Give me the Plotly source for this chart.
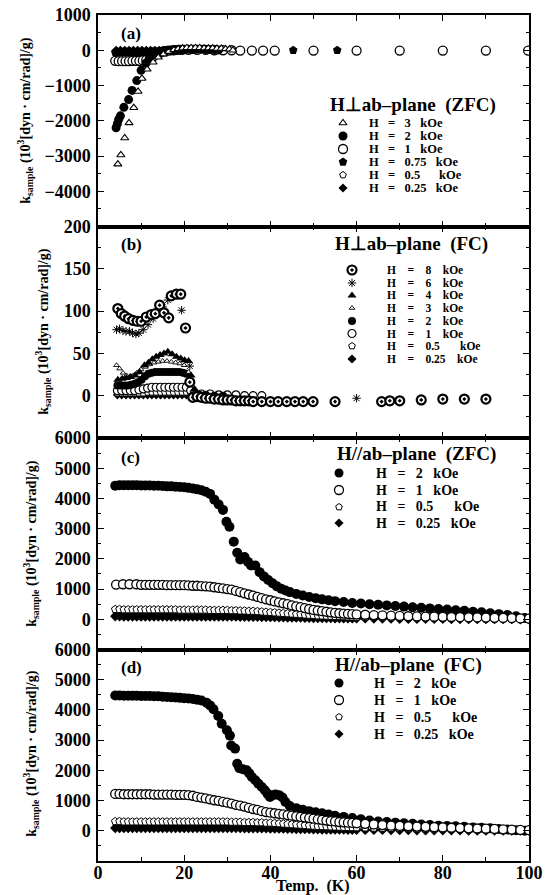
import plotly.graph_objects as go
from plotly.subplots import make_subplots

# ---------------- data ----------------
# panel (a): H perpendicular ab-plane, ZFC
a_T_3k = [4.6, 5.3, 6.2, 7.2, 8.3, 9.3, 10.2, 11.4, 12.8, 14.0, 15.2, 16.4, 17.6, 18.6, 19.6, 20.6, 21.6, 22.6, 23.6, 24.6, 25.6, 26.6, 27.6, 28.6, 29.6, 30.5, 31.3]
a_k_3k = [-3230, -2970, -2490, -2060, -1630, -1170, -800, -540, -340, -200, -110, -40, 10, 40, 60, 70, 70, 70, 70, 60, 60, 60, 50, 50, 40, 30, 0]
a_T_2k = [4.2, 4.5, 4.8, 5.2, 6.0, 7.1, 7.9, 9.0, 10.0, 11.1, 12.0, 13.0, 14.0, 15.0, 16.0, 17.0, 18.0, 19.0, 20.0, 21.0, 22.0, 23.0, 24.0, 25.0, 26.0, 27.0, 28.0]
a_k_2k = [-2200, -2080, -1960, -1860, -1620, -1400, -1140, -860, -570, -370, -210, -120, -60, -20, 0, 10, 20, 30, 30, 30, 30, 30, 30, 20, 20, 20, 10]
a_T_1k = [4.0, 4.8, 5.6, 6.4, 7.2, 8.0, 8.8, 9.6, 10.4, 11.2, 12.0, 12.8, 13.6, 14.5, 15.5, 16.5, 17.5, 18.5, 19.5, 21.0, 23.0, 25.0, 27.0, 29.0, 31.0, 33.0, 35.7, 38.3, 41.0, 50.0, 60.0, 70.0, 80.0, 90.0, 99.8]
a_k_1k = [-300, -310, -310, -310, -310, -300, -300, -300, -290, -280, -250, -180, -110, -60, -30, -10, 0, 10, 10, 10, 10, 10, 0, 0, 0, -10, -10, -10, -10, -10, -10, -10, -10, -10, -10]
a_T_075k = [4.0, 5.0, 6.0, 7.0, 8.0, 9.0, 10.0, 11.0, 12.0, 13.0, 14.0, 15.0, 16.0, 17.0, 18.0, 20.0, 22.0, 45.3, 55.5]
a_k_075k = [-60, -60, -60, -60, -60, -60, -60, -60, -50, -40, -30, -20, -10, -10, 0, 0, 0, 0, 0]
a_T_05k = [4.5, 5.5, 6.5, 7.5, 8.5, 9.5, 10.5, 11.5, 12.5, 13.5, 14.5, 15.5, 16.5, 17.5, 18.5, 19.5]
a_k_05k = [-30, -30, -30, -30, -30, -30, -30, -30, -20, -20, -20, -10, -10, 0, 0, 0]
a_T_025k = [4.2, 5.2, 6.2, 7.2, 8.2, 9.2, 10.2, 11.2, 12.2, 13.2, 14.2, 15.2, 16.2, 17.2, 18.2, 19.2]
a_k_025k = [0, 0, 0, 0, 0, 0, 0, 0, 0, 0, 0, 0, 0, 0, 0, 0]

# panel (b): H perpendicular ab-plane, FC
b_T_8k = [4.6, 5.4, 6.2, 7.1, 8.1, 9.1, 10.0, 11.2, 12.4, 13.3, 14.3, 15.3, 16.4, 17.0, 18.2, 19.2, 20.3, 21.3, 22.0, 23.0, 24.0, 25.0, 26.0, 27.0, 28.0, 29.0, 30.0, 31.0, 32.0, 33.0, 34.0, 35.0, 36.0, 38.0, 40.0, 41.8, 43.8, 45.7, 47.6, 49.9, 55.0, 65.8, 67.7, 70.0, 75.0, 80.0, 85.0, 90.0]
b_k_8k = [103, 97, 94, 91, 89, 88, 88, 93, 96, 97, 107, 98, 92, 118, 120, 120, 80, 16, -2, -1, -2, -3, -3, -4, -4, -5, -5, -5, -6, -6, -6, -6, -7, -7, -7, -7, -7, -7, -7, -7, -7, -7, -6, -6, -5, -4, -4, -4]
b_T_6k = [4.3, 5.0, 5.8, 6.5, 7.3, 8.0, 8.8, 9.5, 10.5, 11.6, 12.8, 13.9, 15.0, 16.2, 19.4, 21.3, 22.5, 60.0]
b_k_6k = [78, 79, 77, 76, 76, 74, 73, 74, 78, 84, 91, 99, 105, 113, 101, 35, 3, -3]
b_T_4k = [4.6, 5.6, 6.6, 7.6, 8.6, 9.6, 10.8, 11.7, 12.6, 13.5, 14.4, 15.3, 16.2, 17.2, 18.2, 19.2, 20.1, 21.0, 21.6, 22.4]
b_k_4k = [19, 20, 21, 22, 24, 28, 36, 39, 43, 46, 48, 50, 52, 49, 46, 44, 42, 41, 24, 8]
b_T_3k = [4.3, 5.0, 5.8, 6.6, 7.4, 8.2, 9.0, 10.0, 11.0, 12.0, 13.0, 14.0, 15.0, 16.0, 17.0, 18.0, 19.0, 20.0, 21.0, 22.0]
b_k_3k = [36, 32, 27, 24, 23, 24, 27, 31, 34, 37, 39, 40, 41, 41, 40, 39, 38, 36, 28, 6]
b_T_2k = [4.5, 5.3, 6.1, 6.9, 7.7, 8.5, 9.3, 10.1, 10.9, 11.7, 12.5, 13.3, 14.1, 14.9, 15.7, 16.5, 17.3, 18.1, 18.9, 19.7, 20.5, 21.3, 22.2, 23.5, 25.0, 27.0, 29.0]
b_k_2k = [12, 12, 12, 12, 13, 14, 16, 19, 23, 26, 27, 28, 28, 28, 28, 28, 28, 28, 28, 27, 26, 15, 2, 1, 1, 0, 0]
b_T_1k = [4.5, 5.5, 6.5, 7.5, 8.5, 9.5, 10.5, 11.5, 12.5, 13.5, 14.5, 15.5, 16.5, 17.5, 18.5, 19.5, 20.5, 21.5, 22.5, 24.0, 26.0, 28.0, 30.0, 32.0, 34.0, 36.0, 38.0]
b_k_1k = [6, 6, 6, 6, 6, 7, 8, 9, 10, 10, 10, 10, 10, 10, 10, 10, 10, 6, 2, 2, 2, 1, 1, 1, 0, 0, 0]
b_T_05k = [4.5, 5.5, 6.5, 7.5, 8.5, 9.5, 10.5, 11.5, 12.5, 13.5, 14.5, 15.5, 16.5, 17.5, 18.5, 19.5, 20.5, 21.5, 22.5]
b_k_05k = [3, 3, 3, 3, 3, 3, 3, 4, 4, 4, 4, 4, 4, 4, 4, 4, 4, 3, 1]
b_T_025k = [4.5, 5.5, 6.5, 7.5, 8.5, 9.5, 10.5, 11.5, 12.5, 13.5, 14.5, 15.5, 16.5, 17.5, 18.5, 19.5, 20.5, 21.5, 22.5]
b_k_025k = [1, 1, 1, 1, 1, 1, 1, 1, 1, 1, 1, 1, 1, 1, 1, 1, 1, 1, 0]

# common temperature grid for the dense low-field curves of (c) and (d)
T_grid = [4, 5, 6, 7, 8, 9, 10, 11, 12, 13, 14, 15, 16, 17, 18, 19, 20, 21, 22, 23, 24, 25, 26, 27, 28, 29, 30,
          31, 32, 33, 34, 35, 36, 37, 38, 39, 40, 41, 42, 43, 44, 45, 46, 47, 48, 49, 50,
          51, 52, 53, 54, 55, 56, 57, 58, 59, 60,
          62, 64, 66, 68, 70, 72, 74, 76, 78, 80, 82, 84, 86, 88, 90, 92, 94, 96, 98, 100]

# panel (c): H // ab-plane, ZFC
c_T_2k = [4, 5, 6, 7, 8, 9, 10, 11, 12, 13, 14, 15, 16, 17, 18, 19, 20, 21, 22, 23, 24, 25, 26, 27, 28, 29,
          29.8, 30.5, 31.5, 32.3, 33, 34, 34.8, 35.5, 36.5, 37.5, 38.5, 39.5, 40.5, 41.5, 42.5, 43.5, 44.5,
          46, 47.5, 49, 50.5, 52, 53.5, 55,
          57, 59, 61, 63, 65, 67, 69, 71, 73, 75, 77, 79, 81, 83, 85, 87, 89, 91, 93, 95, 97, 99]
c_k_2k = [4420, 4440, 4440, 4440, 4440, 4440, 4430, 4430, 4430, 4420, 4420, 4410, 4400, 4400, 4390, 4380, 4370, 4350, 4330, 4300, 4270, 4220, 4150, 3960, 3800, 3620,
          3230, 3060, 2570, 2200, 1980, 2060, 1900, 1780, 1780, 1560, 1420, 1300, 1190, 1090, 1010, 950, 900,
          840, 790, 740, 700, 660, 630, 600,
          570, 540, 520, 500, 480, 460, 440, 420, 400, 380, 360, 340, 320, 300, 280, 250, 230, 200, 170, 140, 100, 40]
c_T_1k = [4.2, 5.8, 7.3, 8.9, 10, 11, 12, 13, 14, 15, 16, 17, 18, 19, 20, 21, 22, 23, 24, 25, 26, 27, 28, 29, 30,
          31, 32, 33, 34, 35, 36, 37, 38, 39, 40, 41, 42, 43, 44, 45, 46, 47, 48, 49, 50,
          51, 52, 53, 54, 55, 56, 57, 58, 59, 60,
          62, 64, 66, 68, 70, 72, 74, 76, 78, 80, 82, 84, 86, 88, 90, 92, 94, 96, 98, 100]
c_k_1k = [1150, 1160, 1160, 1160, 1140, 1140, 1140, 1140, 1140, 1140, 1130, 1130, 1130, 1130, 1130,
          1120, 1110, 1110, 1100, 1090, 1080, 1060, 1040, 1020, 1000,
          980, 940, 900, 860, 820, 780, 740, 700, 660, 630,
          590, 560, 530, 500, 460, 430, 400, 370, 340, 310,
          290, 270, 250, 230, 210, 200, 190, 180, 170, 160,
          150, 140, 130, 120, 110, 100, 95, 90, 85, 80, 75, 70, 65, 60, 55, 50, 45, 40, 30, 20]
c_k_05k = [330, 330, 320, 320, 320, 320, 320, 320, 320, 320, 320, 320, 320, 320, 320, 310, 310, 310, 310, 310, 310, 310, 300, 300, 300, 300, 300,
           290, 290, 280, 280, 270, 270, 260, 250, 240, 230,
           220, 210, 200, 190, 180, 170, 160, 150, 140, 130,
           120, 115, 110, 105, 100, 95, 90, 85, 80, 75,
           70, 65, 60, 55, 50, 50, 45, 45, 40, 40, 35, 35, 30, 30, 25, 25, 20, 20, 15, 10]
c_k_025k = [100, 100, 90, 90, 90, 90, 90, 90, 90, 90, 90, 90, 90, 90, 90, 90, 90, 90, 90, 90, 90, 90, 90, 90, 90, 90, 90,
            90, 90, 85, 85, 80, 80, 80, 75, 75, 70,
            70, 65, 65, 60, 60, 55, 55, 50, 50, 45,
            45, 40, 40, 40, 35, 35, 35, 30, 30, 30,
            30, 25, 25, 25, 20, 20, 20, 15, 15, 15, 10, 10, 10, 10, 5, 5, 5, 5, 0, 0]

# panel (d): H // ab-plane, FC
d_T_2k = [4, 5, 6, 7, 8, 9, 10, 11, 12, 13, 14, 15, 16, 17, 18, 19, 20, 21, 22, 23, 24,
          25.2, 26, 26.8, 27.9, 28.7, 29.9, 30.6, 30.9, 31.8, 32.3, 32.8, 33.6, 34.5, 35.1, 35.7, 36.5, 37.2, 38, 38.7, 39.3, 39.9, 40.5, 41.2, 42, 42.8, 43.5, 44.5,
          46, 47.5, 49, 50.5, 52, 53.5, 55,
          57, 59, 61, 63, 65, 67, 69, 71, 73, 75, 77, 79, 81, 83, 85, 87, 89, 91, 93, 95, 97, 99]
d_k_2k = [4480, 4480, 4470, 4470, 4470, 4470, 4460, 4460, 4460, 4450, 4450, 4440, 4430, 4420, 4410, 4400, 4390, 4380, 4360, 4340, 4310,
          4240, 4150, 4020, 3800, 3540, 3330, 3150, 2820, 2720, 2220, 2070, 2040, 2000, 1900, 1780, 1670, 1560, 1450, 1340, 1230, 1120, 1180, 1200, 1180, 1100, 950, 820,
          750, 700, 650, 610, 580, 540, 500,
          460, 420, 380, 340, 310, 290, 270, 250, 230, 210, 190, 170, 160, 150, 130, 110, 100, 80, 60, 40, 20, 0]
d_k_1k = [1220, 1220, 1210, 1210, 1210, 1210, 1210, 1210, 1210, 1200, 1200, 1200, 1200, 1200, 1190, 1190, 1190,
          1180, 1160, 1120, 1100, 1070, 1040, 1010, 990, 960, 930,
          900, 860, 830, 800, 760, 720, 690, 650, 620, 600,
          580, 560, 540, 520, 500, 480, 460, 440, 420, 400,
          380, 360, 340, 320, 310, 290, 280, 270, 260, 250,
          230, 210, 190, 170, 160, 150, 140, 130, 120, 110, 100, 90, 80, 75, 70, 60, 50, 40, 30, 20]
d_k_05k = [310, 310, 300, 300, 300, 300, 300, 300, 300, 300, 300, 300, 300, 300, 300, 300, 300, 300, 300, 300, 300, 300, 300, 300, 300, 300, 300,
           290, 290, 290, 280, 280, 280, 270, 270, 260, 260,
           250, 240, 230, 220, 210, 200, 190, 180, 170, 160,
           150, 145, 140, 135, 130, 125, 120, 115, 110, 105,
           100, 95, 90, 85, 80, 75, 70, 65, 60, 55, 50, 45, 40, 35, 30, 25, 20, 15, 10, 10]
d_k_025k = [90, 90, 90, 90, 90, 90, 90, 90, 90, 90, 90, 90, 90, 90, 90, 90, 90, 90, 90, 90, 90, 90, 90, 90, 90, 90, 90,
            90, 90, 90, 85, 85, 85, 80, 80, 80, 75,
            75, 70, 70, 65, 65, 60, 60, 55, 55, 50,
            50, 45, 45, 45, 40, 40, 40, 35, 35, 35,
            30, 30, 30, 25, 25, 25, 20, 20, 20, 15, 15, 15, 10, 10, 10, 10, 5, 5, 5, 5]

# labels
panel_letters = ["(a)", "(b)", "(c)", "(d)"]
legend_titles = ["H\u22a5ab\u2013plane\u00a0\u00a0(ZFC)", "H\u22a5ab\u2013plane\u00a0\u00a0(FC)",
                 "H//ab\u2013plane\u00a0\u00a0(ZFC)", "H//ab\u2013plane\u00a0\u00a0(FC)"]
fields_a = ["3", "2", "1", "0.75", "0.5", "0.25"]
fields_b = ["8", "6", "4", "3", "2", "1", "0.5", "0.25"]
fields_cd = ["2", "1", "0.5", "0.25"]
y_ticks = [[-4000, -3000, -2000, -1000, 0, 1000], [0, 50, 100, 150, 200],
           [0, 1000, 2000, 3000, 4000, 5000, 6000], [0, 1000, 2000, 3000, 4000, 5000, 6000]]
y_ranges = [[-5000, 1000], [-50, 200], [-1000, 6000], [-1000, 6000]]
x_ticks = [0, 20, 40, 60, 80, 100]

# ---------------- styles ----------------
W, H = 549, 895
ML, MR, MT, MB = 98, 20, 15, 34
SERIF = "Liberation Serif"
K = "black"


def filled(sym, size):
    return dict(symbol=sym, size=size, color=K, line=dict(width=0, color=K))


def hollow(sym, size, lw=1.3):
    return dict(symbol=sym, size=size, color="white", line=dict(width=lw, color=K))


ST = {
    "tri_open": hollow("triangle-up", 7, 1.1),
    "circ": filled("circle", 9),
    "circ_open": hollow("circle", 9, 1.3),
    "pent": filled("pentagon", 9),
    "pent_open": hollow("pentagon", 7, 1.0),
    "diam": filled("diamond", 7),
    "circ_dot": dict(symbol="circle-dot", size=9, color="white", line=dict(width=2.2, color=K)),
    "ast": dict(symbol="asterisk-open", size=7, color=K, line=dict(width=1.0, color=K)),
    "tri": filled("triangle-up", 8),
    "tri_small": hollow("triangle-up", 5, 0.9),
    "circ_b": filled("circle", 8),
    "circ_open_b": hollow("circle", 8, 1.2),
    "circ_cd": filled("circle", 10),
    "circ_open_cd": hollow("circle", 9, 1.3),
    "pent_open_cd": hollow("pentagon", 8, 1.0),
    "diam_cd": filled("diamond", 8),
}

fig = make_subplots(rows=4, cols=1, shared_xaxes=True, vertical_spacing=0)


def add(row, x, y, style):
    fig.add_trace(go.Scatter(x=x, y=y, mode="markers", marker=ST[style], showlegend=False,
                             hoverinfo="x+y"), row=row, col=1)


# panel a
add(1, a_T_1k, a_k_1k, "circ_open")
add(1, a_T_05k, a_k_05k, "pent_open")
add(1, a_T_075k, a_k_075k, "pent")
add(1, a_T_025k, a_k_025k, "diam")
add(1, a_T_2k, a_k_2k, "circ")
add(1, a_T_3k, a_k_3k, "tri_open")
# panel b
add(2, b_T_025k, b_k_025k, "diam")
add(2, b_T_05k, b_k_05k, "pent_open")
add(2, b_T_1k, b_k_1k, "circ_open_b")
add(2, b_T_2k, b_k_2k, "circ_b")
add(2, b_T_3k, b_k_3k, "tri_small")
add(2, b_T_4k, b_k_4k, "tri")
add(2, b_T_6k, b_k_6k, "ast")
add(2, b_T_8k, b_k_8k, "circ_dot")
# panel c
add(3, c_T_2k, c_k_2k, "circ_cd")
add(3, T_grid, c_k_025k, "diam_cd")
add(3, T_grid, c_k_05k, "pent_open_cd")
add(3, c_T_1k, c_k_1k, "circ_open_cd")
# panel d
add(4, d_T_2k, d_k_2k, "circ_cd")
add(4, T_grid, d_k_025k, "diam_cd")
add(4, T_grid, d_k_05k, "pent_open_cd")
add(4, T_grid, d_k_1k, "circ_open_cd")

tickfont = dict(family=SERIF, size=18, color=K, weight="bold")
for r in range(1, 5):
    fig.update_xaxes(row=r, col=1, range=[0, 100], tickvals=x_ticks, showline=True, linecolor=K,
                     linewidth=1.5, mirror="allticks", ticks="inside", ticklen=6, tickwidth=1.2,
                     tickcolor=K, minor=dict(dtick=10, ticks="inside", ticklen=4, tickcolor=K),
                     showgrid=False, zeroline=False, tickfont=tickfont, showticklabels=(r == 4),
                     ticklabelstandoff=-5)
    fig.update_yaxes(row=r, col=1, range=y_ranges[r - 1], tickvals=y_ticks[r - 1], showline=True,
                     linecolor=K, linewidth=1.5, mirror="allticks", ticks="inside", ticklen=6,
                     tickwidth=1.2, tickcolor=K, showgrid=False, zeroline=False, tickfont=tickfont,
                     ticklabelstandoff=2,
                     minor=dict(dtick=(25 if r == 2 else 500), ticks="inside", ticklen=3, tickcolor=K))

PW = W - ML - MR
PH = H - MT - MB


def px(xp):
    return (xp - ML) / PW


def py(yp):
    return (H - MB - yp) / PH


# legend keys drawn on an invisible overlay axis spanning the plotting area
fig.update_layout(
    xaxis5=dict(domain=[0, 1], range=[0, 1], visible=False, anchor="y5", fixedrange=True),
    yaxis5=dict(domain=[0, 1], range=[0, 1], visible=False, anchor="x5", fixedrange=True),
)

legend_specs = [
    (328, 105, 343, 368, [123, 136, 149, 162, 175, 188], fields_a,
     ["tri_open", "circ", "circ_open", "pent", "pent_open", "diam"], 12.5, 3),
    (333, 244, 352, 386, [270, 283, 295.5, 308, 321, 333.5, 346, 359], fields_b,
     ["circ_dot", "ast", "tri", "tri_small", "circ_b", "circ_open_b", "pent_open", "diam"], 11.5, 4),
    (335, 454, 339, 375, [473, 490, 507, 523], fields_cd,
     ["circ", "circ_open", "pent_open", "diam"], 14, 3),
    (333, 665, 339, 373, [683, 700, 717, 734], fields_cd,
     ["circ", "circ_open", "pent_open", "diam"], 14, 3),
]

ann = []
NB = "\u00a0"
for i, (tx, ty, sx, txx, rows, fields, styles, fs, gap) in enumerate(legend_specs):
    ann.append(dict(x=px(tx), y=py(ty), xref="paper", yref="paper", xanchor="left", yanchor="middle",
                    text="<b>" + legend_titles[i] + "</b>", showarrow=False,
                    font=dict(family=SERIF, size=19, color=K)))
    for yy, f, s in zip(rows, fields, styles):
        fig.add_trace(go.Scatter(x=[px(sx)], y=[py(yy)], xaxis="x5", yaxis="y5", mode="markers",
                                 marker=ST[s], showlegend=False, hoverinfo="skip"))
        pad = NB * 3 if f in ("0.5",) else ""
        label = "H" + NB * gap + "=" + NB * gap + f + NB * gap + pad + "kOe"
        ann.append(dict(x=px(txx), y=py(yy), xref="paper", yref="paper", xanchor="left",
                        yanchor="middle", text="<b>" + label + "</b>", showarrow=False,
                        borderpad=0, font=dict(family=SERIF, size=fs, color=K)))

# panel letters and y titles
panel_tops = [15, 225, 438, 648]
panel_h = 211.5
ytitle = "k<sub>sample</sub> (10<sup>3</sup>[dyn \u00b7 cm/rad]/g)"
title_x = [25, 43, 31, 31]
for i in range(4):
    ann.append(dict(x=px(119), y=py(panel_tops[i] + 19), xref="paper", yref="paper", xanchor="left",
                    yanchor="middle", text="<b>" + panel_letters[i] + "</b>", showarrow=False,
                    font=dict(family=SERIF, size=17, color=K)))
    ann.append(dict(x=px(title_x[i]), y=py(panel_tops[i] + panel_h / 2), xref="paper", yref="paper",
                    xanchor="center", yanchor="middle", textangle=-90, text="<b>" + ytitle + "</b>",
                    showarrow=False, font=dict(family=SERIF, size=14, color=K)))

ann.append(dict(x=px(313), y=py(886), xref="paper", yref="paper", xanchor="center", yanchor="middle",
                text="<b>Temp." + NB * 2 + "(K)</b>", showarrow=False,
                font=dict(family=SERIF, size=16, color=K)))

fig.update_layout(width=W, height=H, margin=dict(l=ML, r=MR, t=MT, b=MB, autoexpand=False),
                  paper_bgcolor="white", plot_bgcolor="rgba(0,0,0,0)", annotations=ann,
                  showlegend=False, font=dict(family=SERIF, color=K))

fig.write_html("out.html", config={"displayModeBar": False},
               post_script="document.body.style.margin='0';")
